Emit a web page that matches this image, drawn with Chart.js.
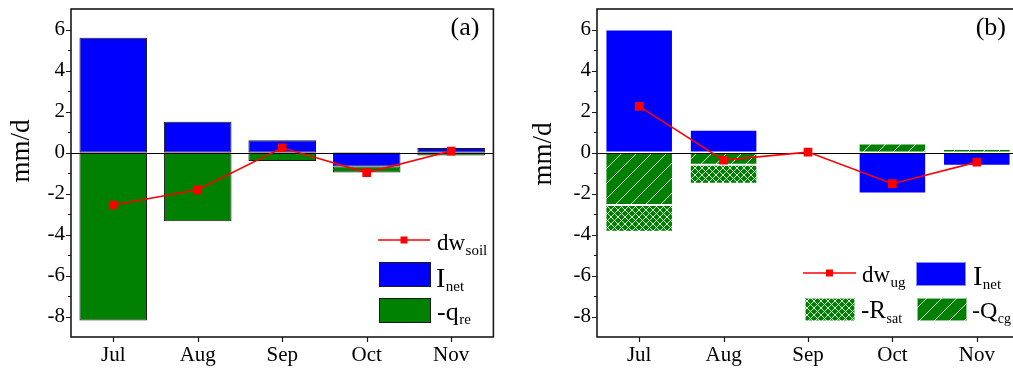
<!DOCTYPE html>
<html>
<head>
<meta charset="utf-8">
<script src="https://cdn.jsdelivr.net/npm/chart.js@4.4.1/dist/chart.umd.min.js"></script>
<style>
  html, body { margin: 0; padding: 0; background: #fff; overflow: hidden; width: 1013px; height: 369px; }
  #wrap { position: relative; width: 1013px; height: 369px; overflow: hidden; }
  canvas { position: absolute; top: 0; }
  #ca { left: 0; }
  #cb { left: 520px; }
</style>
</head>
<body>
<div id="wrap">
  <canvas id="ca" width="500" height="369"></canvas>
  <canvas id="cb" width="520" height="369"></canvas>
</div>
<script>
// Monthly categories shared by both panels
const months = ['Jul', 'Aug', 'Sep', 'Oct', 'Nov'];

// Panel (a): soil water budget terms (mm/d)
const inetA  = [5.6, 1.5, 0.6, -0.68, 0.22];
const qreA   = [-8.2, -3.35, -0.42, -0.3, -0.15];
const dwSoil = [-2.56, -1.82, 0.23, -0.98, 0.07];

// Panel (b): unsaturated/groundwater budget terms (mm/d)
const inetB = [6.0, 1.11, 0, -2.0, -0.65];
const qcgB  = [-2.56, -0.6, 0, 0.44, 0.17];
const rsatB = [-1.3, -0.93, 0, 0, 0];
const dwUg  = [2.25, -0.37, 0.02, -1.52, -0.47];

// Value axis range and labelled ticks
const yMin = -9, yMax = 7;
const yTickLabels = [-8, -6, -4, -2, 0, 2, 4, 6];

const SERIF = "'Liberation Serif', 'Times New Roman', serif";
const BLUE = '#0000ff', GREEN = '#008000', RED = '#ff0000', INK = '#1a1a1a';

// Green fill with white hatch lines; "both" adds the second diagonal
function hatch(size, both) {
  const c = document.createElement('canvas');
  c.width = c.height = size;
  const g = c.getContext('2d');
  g.fillStyle = GREEN;
  g.fillRect(0, 0, size, size);
  g.strokeStyle = 'rgba(255,255,255,0.85)';
  g.lineWidth = 1;
  g.beginPath();
  for (const k of [-size, 0, size]) {
    g.moveTo(k, size); g.lineTo(k + size, 0);
    if (both) { g.moveTo(k, 0); g.lineTo(k + size, size); }
  }
  g.stroke();
  return document.createElement('canvas').getContext('2d').createPattern(c, 'repeat');
}
const QCG_FILL = hatch(15, false);
const RSAT_FILL = hatch(7, true);

// Text with a subscript, as used in the legends
function subText(ctx, x, base, main, mainSize, sub, subSize, subDrop) {
  ctx.font = mainSize + 'px ' + SERIF;
  ctx.textAlign = 'left';
  ctx.textBaseline = 'alphabetic';
  ctx.fillStyle = '#000';
  ctx.fillText(main, x, base);
  const w = ctx.measureText(main).width;
  ctx.font = subSize + 'px ' + SERIF;
  ctx.fillText(sub, x + w + 0.5, base + subDrop);
}

function drawBox(ctx, x, y, w, h, fill, stroke) {
  ctx.fillStyle = fill;
  ctx.fillRect(x, y, w, h);
  ctx.strokeStyle = stroke;
  ctx.lineWidth = 1;
  ctx.strokeRect(x + 0.5, y + 0.5, w - 1, h - 1);
}

function drawLineKey(ctx, x1, x2, y) {
  ctx.strokeStyle = RED;
  ctx.lineWidth = 1.6;
  ctx.beginPath(); ctx.moveTo(x1, y); ctx.lineTo(x2, y); ctx.stroke();
  ctx.fillStyle = RED;
  const m = (x1 + x2) / 2;
  ctx.fillRect(m - 3.5, y - 3.5, 7, 7);
}

// Frame, tick marks, zero line, axis title, panel tag and legend
function panelPlugin(tag, tagRight, titleX, titleY, legend) {
  return {
    id: 'panel' + tag,
    beforeDatasetDraw(chart, args) {
      if (args.meta.type !== 'line') return;
      const { ctx, chartArea: a, scales: { y } } = chart;
      const y0 = Math.round(y.getPixelForValue(0)) + 0.5;
      ctx.save();
      ctx.strokeStyle = '#000';
      ctx.lineWidth = 1.2;
      ctx.beginPath(); ctx.moveTo(a.left, y0); ctx.lineTo(a.right, y0); ctx.stroke();
      ctx.restore();
    },
    afterDraw(chart) {
      const { ctx, chartArea: a, scales: { x, y } } = chart;
      ctx.save();
      ctx.strokeStyle = INK;
      ctx.lineWidth = 1.6;
      ctx.strokeRect(a.left, a.top, a.right - a.left, a.bottom - a.top);
      ctx.lineWidth = 1.2;
      ctx.beginPath();
      for (let v = yMin + 1; v < yMax; v++) {
        const py = Math.round(y.getPixelForValue(v)) + 0.5;
        const len = yTickLabels.includes(v) ? 5 : 3;
        ctx.moveTo(a.left - len, py); ctx.lineTo(a.left, py);
      }
      months.forEach((m, i) => {
        const px = Math.round(x.getPixelForValue(i)) + 0.5;
        ctx.moveTo(px, a.bottom); ctx.lineTo(px, a.bottom + 5);
      });
      ctx.stroke();

      // axis title
      ctx.save();
      ctx.translate(titleX, titleY);
      ctx.rotate(-Math.PI / 2);
      ctx.font = '27px ' + SERIF;
      ctx.fillStyle = '#000';
      ctx.textAlign = 'center';
      ctx.textBaseline = 'middle';
      ctx.fillText('mm/d', 0, 0);
      ctx.restore();

      // panel tag
      ctx.font = '26px ' + SERIF;
      ctx.fillStyle = '#000';
      ctx.textAlign = 'right';
      ctx.textBaseline = 'alphabetic';
      ctx.fillText(tag, a.right - tagRight, 35);

      legend(ctx);
      ctx.restore();
    }
  };
}

function makeChart(id, datasets, plugin, yWidth, padRight) {
  return new Chart(document.getElementById(id), {
    type: 'bar',
    data: { labels: months, datasets },
    options: {
      responsive: false,
      animation: false,
      devicePixelRatio: 1,
      layout: { padding: { left: 0, right: padRight, top: 9, bottom: 0 } },
      plugins: { legend: { display: false }, tooltip: { enabled: false } },
      scales: {
        x: {
          stacked: true,
          offset: true,
          grid: { display: false, drawTicks: false },
          border: { display: false },
          ticks: { font: { family: SERIF, size: 21 }, color: '#000', padding: 6, maxRotation: 0, autoSkip: false },
          afterFit(s) { s.height = 32; s.paddingLeft = 0; s.paddingRight = 0; }
        },
        y: {
          stacked: true,
          min: yMin,
          max: yMax,
          grid: { display: false, drawTicks: false },
          border: { display: false },
          ticks: {
            stepSize: 1,
            autoSkip: false,
            font: { family: SERIF, size: 21 },
            color: '#000',
            padding: 6,
            callback: v => (yTickLabels.includes(v) ? String(v) : '')
          },
          afterFit(s) { s.width = yWidth; s.paddingTop = 0; s.paddingBottom = 0; }
        }
      }
    },
    plugins: [plugin]
  });
}

const lineStyle = {
  type: 'line', borderColor: RED, backgroundColor: RED, borderWidth: 1.6,
  pointStyle: 'rect', pointRadius: 5, pointBorderColor: RED, pointBackgroundColor: RED,
  order: 0, stack: 'line', tension: 0
};
const barStyle = { barPercentage: 0.8, categoryPercentage: 1, borderSkipped: false, order: 1 };

// Panel (a)
makeChart('ca', [
  Object.assign({ label: 'dw_soil', data: dwSoil }, lineStyle),
  Object.assign({ label: 'I_net', data: inetA, backgroundColor: BLUE, borderColor: INK, borderWidth: 1 }, barStyle),
  Object.assign({ label: '-q_re', data: qreA, backgroundColor: GREEN, borderColor: INK, borderWidth: 1 }, barStyle)
], panelPlugin('(a)', 14, 22, 151, ctx => {
  drawLineKey(ctx, 378, 430, 240);
  subText(ctx, 437, 250, 'dw', 23, 'soil', 15, 5);
  drawBox(ctx, 379, 262, 52, 25, BLUE, INK);
  subText(ctx, 436, 287, 'I', 28, 'net', 15, 4);
  drawBox(ctx, 379, 298, 52, 25, GREEN, INK);
  subText(ctx, 437, 320, '-q', 26, 're', 15, 4);
}), 71, 6);

// Panel (b)
const edge = 'rgba(255,255,255,0.55)';
makeChart('cb', [
  Object.assign({ label: 'dw_ug', data: dwUg }, lineStyle),
  Object.assign({ label: 'I_net', data: inetB, backgroundColor: BLUE, borderColor: edge, borderWidth: 1 }, barStyle),
  Object.assign({ label: '-Q_cg', data: qcgB, backgroundColor: QCG_FILL, borderColor: edge, borderWidth: 1 }, barStyle),
  Object.assign({ label: '-R_sat', data: rsatB, backgroundColor: RSAT_FILL, borderColor: edge, borderWidth: 1 }, barStyle)
], panelPlugin('(b)', 13, 24, 154, ctx => {
  drawLineKey(ctx, 283, 336, 273);
  subText(ctx, 342, 282, 'dw', 23, 'ug', 15, 5);
  drawBox(ctx, 396, 262, 50, 24, BLUE, edge);
  subText(ctx, 453, 285, 'I', 28, 'net', 15, 4);
  drawBox(ctx, 285, 298, 50, 23, RSAT_FILL, edge);
  subText(ctx, 341, 318, '-R', 25, 'sat', 14, 5);
  drawBox(ctx, 397, 298, 50, 23, QCG_FILL, edge);
  subText(ctx, 452, 318, '-Q', 24, 'cg', 14, 5);
}), 77, 21);
</script>
</body>
</html>
